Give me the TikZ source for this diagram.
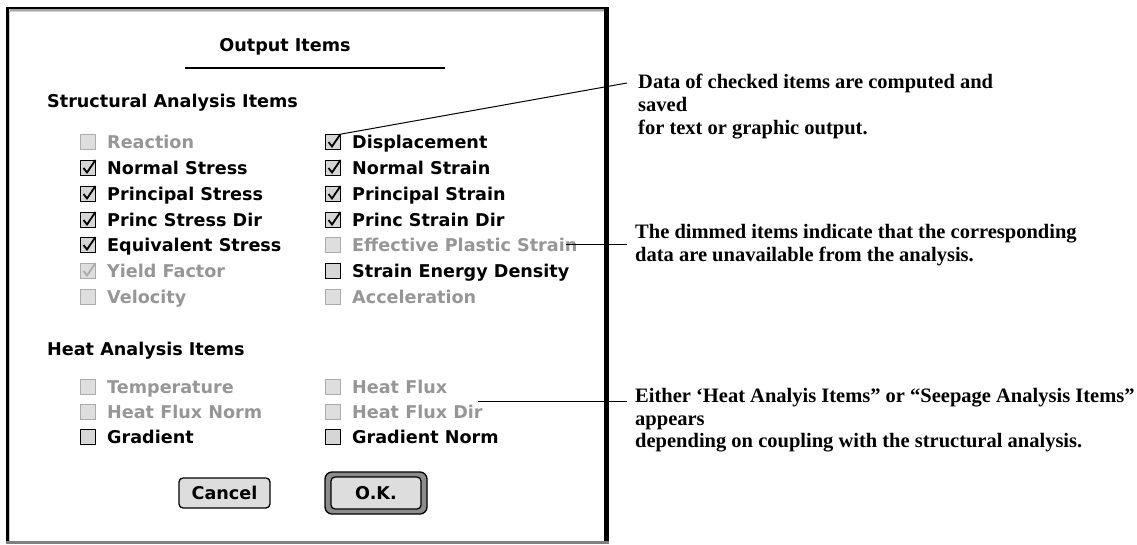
\documentclass[tikz,border=0pt]{standalone}
\usepackage{fontspec}
\setmainfont{Liberation Serif}
\newfontfamily\uifont{DejaVu Sans}
\definecolor{dimtext}{RGB}{150,150,150}
\definecolor{dimborder}{RGB}{172,172,172}
\definecolor{dimfill}{RGB}{222,222,222}
\definecolor{boxgray}{RGB}{214,214,214}
\definecolor{btnfill}{RGB}{221,221,221}
\definecolor{ringgray}{RGB}{140,140,140}
\tikzset{
  ui/.style={font=\uifont\bfseries\fontsize{17.6}{20}\selectfont, inner sep=0pt, text=black},
  uidim/.style={ui, text=dimtext},
  cbon/.style={rectangle, draw=black, line width=1.3pt, fill=boxgray, minimum size=14.5pt, inner sep=0pt},
  cbdim/.style={rectangle, draw=dimborder, line width=1.3pt, fill=dimfill, minimum size=14.5pt, inner sep=0pt},
  chk/.style={line width=1.8pt, draw=black},
  chkdim/.style={line width=1.8pt, draw=dimborder},
  note/.style={font=\bfseries\fontsize{20.5}{22.7}\selectfont, inner sep=0pt, align=left, anchor=north west},
  callout/.style={draw=black, line width=1pt},
  btn/.style={ui, draw=black, line width=1.3pt, fill=btnfill, rounded corners=4pt, minimum width=91pt, minimum height=30pt}
}
\newcommand\uiitem[6]{%
  \node[#4] (cb#1) at (#2,#3) {};
  \node[#5, anchor=base west] (lb#1) at (#2+19,#3+6.5) {#6};
}
\newcommand\tick[2]{%
  \draw[#2] ([shift={(-4.5,0)}]#1.center) -- ([shift={(-1,4.5)}]#1.center) -- ([shift={(7.5,-8)}]#1.center);
}
\begin{document}
\begin{tikzpicture}[x=1pt,y=-1pt]
\useasboundingbox (0,0) rectangle (1137,545);
% window frame
\fill[black] (6,7) rectangle (608,9.5);
\fill[black] (6,7) rectangle (8.5,542);
\fill[black] (603.5,7) rectangle (608.5,543);
\fill[gray] (6,541) rectangle (608.5,544);
\fill[gray!70] (8.5,9.5) rectangle (603.5,11);
\fill[gray!35] (8.5,11) rectangle (603.5,12.5);
\fill[gray!45] (8.5,9.5) rectangle (10,541);
% title
\node[ui] (title) at (285,47) {Output Items};
\coordinate (ulA) at (185,68);
\coordinate (ulB) at (445,68);
\draw[line width=1.5pt] (ulA) -- (ulB);
% headings
\node[ui, anchor=base west] (hstruct) at (47,107.5) {Structural Analysis Items};
\node[ui, anchor=base west] (hheat) at (47,355.5) {Heat Analysis Items};
% structural column 1
\uiitem{react}{88}{142}{cbdim}{uidim}{Reaction}
\uiitem{nstress}{88}{168}{cbon}{ui}{Normal Stress}
\uiitem{pstress}{88}{194}{cbon}{ui}{Principal Stress}
\uiitem{psdir}{88}{220}{cbon}{ui}{Princ Stress Dir}
\uiitem{eqstress}{88}{245}{cbon}{ui}{Equivalent Stress}
\uiitem{yield}{88}{271}{cbdim}{uidim}{Yield Factor}
\uiitem{vel}{88}{297}{cbdim}{uidim}{Velocity}
% structural column 2
\uiitem{disp}{333}{142}{cbon}{ui}{Displacement}
\uiitem{nstrain}{333}{168}{cbon}{ui}{Normal Strain}
\uiitem{pstrain}{333}{194}{cbon}{ui}{Principal Strain}
\uiitem{ptdir}{333}{220}{cbon}{ui}{Princ Strain Dir}
\uiitem{eps}{333}{245}{cbdim}{uidim}{Effective Plastic Strain}
\uiitem{sed}{333}{271}{cbon}{ui}{Strain Energy Density}
\uiitem{acc}{333}{297}{cbdim}{uidim}{Acceleration}
% heat items
\uiitem{temp}{88}{387}{cbdim}{uidim}{Temperature}
\uiitem{hfnorm}{88}{412}{cbdim}{uidim}{Heat Flux Norm}
\uiitem{grad}{88}{437}{cbon}{ui}{Gradient}
\uiitem{hflux}{333}{387}{cbdim}{uidim}{Heat Flux}
\uiitem{hfdir}{333}{412}{cbdim}{uidim}{Heat Flux Dir}
\uiitem{gradn}{333}{437}{cbon}{ui}{Gradient Norm}
% check marks
\tick{cbnstress}{chk}
\tick{cbpstress}{chk}
\tick{cbpsdir}{chk}
\tick{cbeqstress}{chk}
\tick{cbyield}{chkdim}
\tick{cbdisp}{chk}
\tick{cbnstrain}{chk}
\tick{cbpstrain}{chk}
\tick{cbptdir}{chk}
% buttons
\node[btn] (cancel) at (224.5,493) {Cancel};
\node[draw=black, line width=1.3pt, fill=ringgray, rounded corners=7pt, minimum width=102pt, minimum height=42pt, inner sep=0pt] (okring) at (376,493) {};
\node[btn, minimum width=90pt, minimum height=32pt] (ok) at (376,493) {O.K.};
% notes
\node[note] (note1) at (638,74) {Data of checked items are computed and\\saved\\for text or graphic output.};
\node[note] (note2) at (635,224) {The dimmed items indicate that the corresponding\\data are unavailable from the analysis.};
\node[note] (note3) at (635,388) {Either ‘Heat Analyis Items” or “Seepage Analysis Items”\\appears\\depending on coupling with the structural analysis.};
% callouts
\coordinate (c1) at (627,83);
\coordinate (c2) at (627,0);
\coordinate (c3) at (627,401);
\coordinate (c3s) at (478,401);
\draw[callout] (cbdisp.north east) -- (c1);
\draw[callout] ([xshift=-12pt]lbeps.east) -- (lbeps.east -| c2);
\draw[callout] (c3s) -- (c3);
\end{tikzpicture}
\end{document}
